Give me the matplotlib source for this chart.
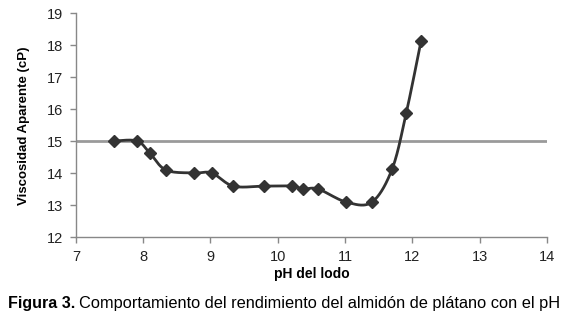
import numpy as np
import matplotlib
matplotlib.use("Agg")
import matplotlib.pyplot as plt

plt.rcParams['font.family'] = ['Liberation Sans', 'DejaVu Sans']

# datos
ph = [7.57, 7.91, 8.10, 8.34, 8.76, 9.02, 9.34, 9.80, 10.21, 10.38, 10.60, 11.02, 11.40, 11.70, 11.91, 12.13]
visc = [15.01, 15.01, 14.63, 14.10, 14.01, 14.01, 13.60, 13.60, 13.60, 13.51, 13.51, 13.10, 13.10, 14.13, 15.88, 18.13]
ref_y = 15.0


def smooth(x, y, n=30):
    """Curva suavizada tipo Excel (Bezier cúbica con tangentes de Catmull-Rom)."""
    P = np.column_stack([x, y])
    out = []
    for i in range(len(P) - 1):
        p0 = P[max(i - 1, 0)]; p1 = P[i]; p2 = P[i + 1]; p3 = P[min(i + 2, len(P) - 1)]
        c1 = p1 + (p2 - p0) / 6.0
        c2 = p2 - (p3 - p1) / 6.0
        t = np.linspace(0, 1, n)[:, None]
        seg = (1 - t) ** 3 * p1 + 3 * (1 - t) ** 2 * t * c1 + 3 * (1 - t) * t ** 2 * c2 + t ** 3 * p2
        out.append(seg if i == 0 else seg[1:])
    S = np.vstack(out)
    return S[:, 0], S[:, 1]


fig = plt.figure(figsize=(5.75, 3.17), dpi=100)
ax = fig.add_axes([0.132, 0.2514, 0.819, 0.7066])

ax.axhline(ref_y, color='#9a9a9a', lw=2.0, zorder=1)
sx, sy = smooth(ph, visc)
ax.plot(sx, sy, color='#333333', lw=2.0, zorder=2)
ax.plot(ph, visc, ls='none', marker='D', ms=6.5, color='#333333', zorder=3)

ax.set_xlim(7, 14); ax.set_ylim(12, 19)
ax.set_xticks(range(7, 15)); ax.set_yticks(range(12, 20))
for s in ('top', 'right'):
    ax.spines[s].set_visible(False)
for s in ('left', 'bottom'):
    ax.spines[s].set_color('#888888'); ax.spines[s].set_linewidth(1.0)
ax.tick_params(axis='both', colors='#888888', labelcolor='#222222', labelsize=10.5,
               direction='out', length=4, width=1.0)
ax.tick_params(axis='x', pad=5)
ax.tick_params(axis='y', pad=5)
ax.set_xlabel("pH del lodo", fontsize=10, fontweight='bold', labelpad=2)
ax.set_ylabel("Viscosidad Aparente (cP)", fontsize=9.5, fontweight='bold', labelpad=12)

fig.text(0.014, 0.027, "Figura 3.", fontsize=11.5, fontweight='bold', ha='left', va='baseline')
fig.text(0.137, 0.027, "Comportamiento del rendimiento del almidón de plátano con el pH",
         fontsize=11.8, ha='left', va='baseline')

fig.savefig("out.png", dpi=100)
